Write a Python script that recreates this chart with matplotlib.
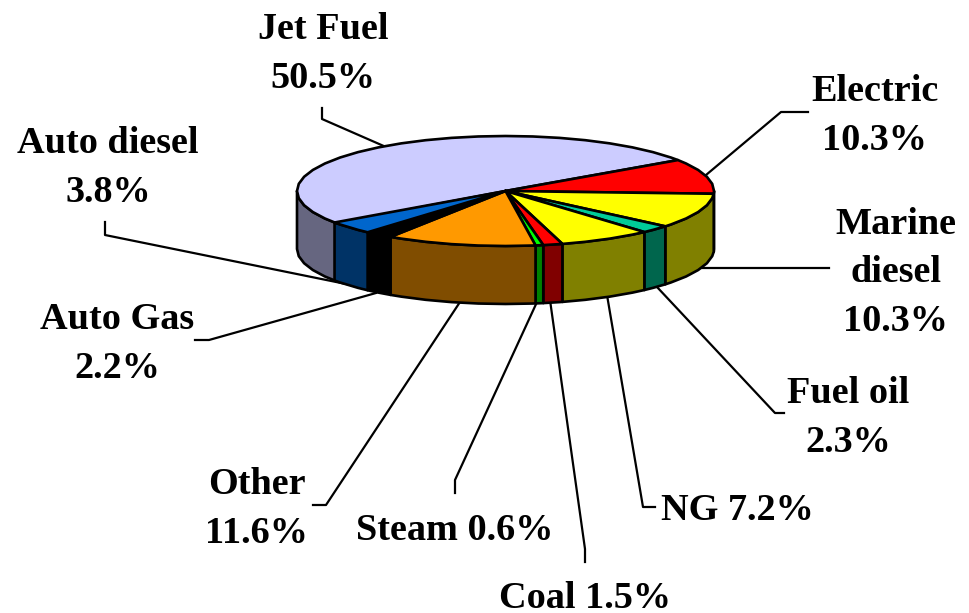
import numpy as np
import matplotlib
matplotlib.use('Agg')
import matplotlib.pyplot as plt
from matplotlib.patches import Polygon

categories = ['Jet Fuel', 'Electric', 'Marine\ndiesel', 'Fuel oil', 'NG', 'Coal', 'Steam', 'Other', 'Auto Gas', 'Auto diesel']
values = [50.5, 10.3, 10.3, 2.3, 7.2, 1.5, 0.6, 11.6, 2.2, 3.8]
top_colors = ['#CCCCFF', '#FF0000', '#FFFF00', '#00CC99', '#FFFF00', '#FF0000', '#00FF00', '#FF9900', '#000000', '#0066CC']
side_colors = ['#666680', '#800000', '#808000', '#00664D', '#808000', '#800000', '#008000', '#804D00', '#000000', '#003366']

plt.rcParams['font.family'] = ['Liberation Serif', 'DejaVu Serif']

# pixel coordinates, y pointing down
fig = plt.figure(figsize=(9.69, 6.13), dpi=100)
ax = fig.add_axes([0, 0, 1, 1])
ax.set_xlim(0, 969)
ax.set_ylim(613, 0)
ax.axis('off')

cx, cy, rx, ry = 505.5, 191, 208.5, 55
depth = 58
start = 216
step = 7.5
lw = 1.9


def arc(a0, a1):
    # a0 > a1, going clockwise on screen; coarse steps give the rough edge of the original
    inner = np.arange(np.ceil(a1 / step) * step, a0, step)[::-1]
    t = np.radians(np.r_[a0, inner, a1])
    return cx + rx * np.cos(t), cy - ry * np.sin(t)


edges = start - np.r_[0, np.cumsum(values)] * 3.6

for i in range(len(values)):
    a0, a1 = edges[i], edges[i + 1]
    # only the front half of the rim shows (-180 to 0 deg)
    for shift in (0, -360):
        s0 = min(a0 + shift, 0)
        s1 = max(a1 + shift, -180)
        if s0 > s1:
            x, y = arc(s0, s1)
            pts = np.r_[np.c_[x, y], np.c_[x[::-1], y[::-1] + depth]]
            ax.add_patch(Polygon(pts, closed=True, fc=side_colors[i], ec='black', lw=lw, joinstyle='round'))

for i in range(len(values)):
    x, y = arc(edges[i], edges[i + 1])
    pts = np.r_[[[cx, cy]], np.c_[x, y]]
    ax.add_patch(Polygon(pts, closed=True, fc=top_colors[i], ec='black', lw=lw, joinstyle='round'))

leaders = [
    [(322, 108), (322, 119), (386, 147)],
    [(808, 112), (781, 112), (706, 175)],
    [(829, 268), (700, 268)],
    [(784, 413), (775, 413), (657, 287)],
    [(655, 507), (643, 507), (607, 295)],
    [(585, 562), (585, 549), (550, 300)],
    [(455, 493), (455, 480), (537, 302)],
    [(313, 505), (326, 505), (460, 302)],
    [(195, 340), (209, 340), (376, 293)],
    [(105, 222), (105, 235), (346, 284)],
]
for line in leaders:
    xs, ys = zip(*line)
    ax.plot(xs, ys, color='black', lw=1.6, zorder=0)

label_pos = [(323, 54), (875, 116), (896, 273), (848, 418), (737, 510), (585, 599), (455, 531), (257, 509), (117, 344), (108, 168)]
for name, v, (x, y) in zip(categories, values, label_pos):
    sep = ' ' if name in ('NG', 'Coal', 'Steam') else '\n'
    ax.text(x, y, f'{name}{sep}{v}%', ha='center', va='center', fontsize=27.5, fontweight='bold',
            color='black', linespacing=1.5, multialignment='center')

plt.savefig('out.png', dpi=100)
